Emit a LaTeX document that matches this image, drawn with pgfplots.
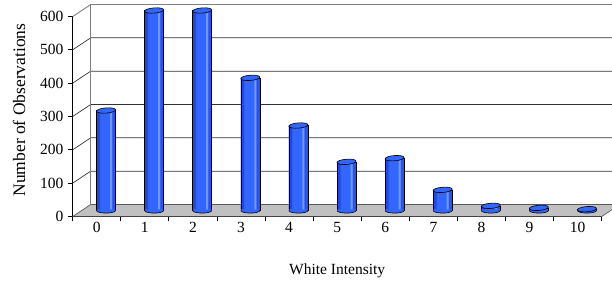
\documentclass[border=0pt]{standalone}
\usepackage{pgfplots}
\pgfplotsset{compat=1.18}
\usepackage{fontspec}
\setmainfont{Liberation Serif}
\definecolor{cylA}{RGB}{36,72,222}
\definecolor{cylB}{RGB}{51,102,255}
\definecolor{cylC}{RGB}{112,152,255}
\definecolor{cylD}{RGB}{42,84,232}
\definecolor{floorgray}{RGB}{192,192,192}
\pgfdeclareplotmark{cyltop}{%
  \pgfpathellipse{\pgfpointorigin}{\pgfpoint{9.5bp}{0.8bp}}{\pgfpoint{-0.4bp}{2.6bp}}%
  \pgfusepathqfillstroke}
\pgfdeclareplotmark{cylbot}{%
  \pgfpathmoveto{\pgfpoint{-9.2bp}{1bp}}%
  \pgfpathlineto{\pgfpoint{-9.5bp}{0bp}}%
  \pgfpatharc{180}{360}{9.5bp and 2.6bp}%
  \pgfpathlineto{\pgfpoint{9.2bp}{1bp}}%
  \pgfpathclose
  \pgfusepathqfill
  \pgfpathmoveto{\pgfpoint{-9.5bp}{0bp}}%
  \pgfpatharc{180}{360}{9.5bp and 2.6bp}%
  \pgfusepathqstroke}
\pgfplotstableread{
x y
0 300
1 600
2 600
3 398
4 255
5 146
6 157
7 62
8 14
9 8
10 4
}\counts
\begin{document}
\begin{tikzpicture}
\path[use as bounding box, clip] (0,0) rectangle (612bp,283bp);
\begin{axis}[
  at={(72.7bp,66.5bp)}, anchor=south west,
  scale only axis, width=529bp, height=200bp,
  xmin=-0.5, xmax=10.5, ymin=0, ymax=600,
  clip=false,
  axis x line*=bottom, axis y line*=left,
  axis line style={black, line width=0.8bp},
  tick align=outside,
  major tick length=0pt, minor tick length=5bp,
  minor tick style={black, line width=0.8bp},
  xtick={0,...,10},
  minor xtick={-0.5,0.5,...,10.5},
  ytick={0,100,...,600},
  minor ytick={0,100,...,600},
  /pgf/number format/assume math mode=true,
  xticklabel style={font=\fontsize{15.5bp}{18bp}\selectfont, inner sep=0pt, anchor=north, yshift=-5.2bp},
  yticklabel style={font=\fontsize{15.5bp}{18bp}\selectfont, inner sep=0pt, anchor=east, xshift=-9.2bp},
  every axis plot/.append style={xshift=9.3bp, yshift=6bp},
]
% floor
\fill[floorgray] (axis cs:-0.5,0) -- (axis cs:10.5,0) -- ([shift={(18bp,12bp)}]axis cs:10.5,0) -- ([shift={(18bp,12bp)}]axis cs:-0.5,0) -- cycle;
\draw[black!65, line width=0.7bp] (axis cs:10.5,0) -- ([shift={(18bp,12bp)}]axis cs:10.5,0) -- ([shift={(18bp,12bp)}]axis cs:-0.5,0) -- (axis cs:-0.5,0);
% back wall gridlines
\pgfplotsinvokeforeach{100,200,300,400,500}{
  \draw[black!80, line width=0.7bp] (axis cs:-0.5,#1) -- ([shift={(18bp,12bp)}]axis cs:-0.5,#1) -- ([shift={(18bp,12bp)}]axis cs:10.5,#1);
}
\draw[gray, line width=0.9bp] (axis cs:-0.5,600) -- ([shift={(18bp,12bp)}]axis cs:-0.5,600) -- ([shift={(18bp,12bp)}]axis cs:10.5,600);
\draw[gray, line width=0.9bp] ([shift={(18bp,12bp)}]axis cs:-0.5,0) -- ([shift={(18bp,12bp)}]axis cs:-0.5,600);
% bars: body, shading stripes, outline
\addplot[ybar, bar width=19bp, bar shift=0pt, fill=cylB, draw=none] table {\counts};
\addplot[ybar, bar width=3.5bp, bar shift=-7.75bp, fill=cylA, draw=none] table {\counts};
\addplot[ybar, bar width=2bp, bar shift=5bp, fill=cylC, draw=none] table {\counts};
\addplot[ybar, bar width=3bp, bar shift=8bp, fill=cylD, draw=none] table {\counts};
\addplot[ybar, bar width=19bp, bar shift=0pt, fill=none, draw=black, line width=0.6bp] table {\counts};
\addplot[only marks, mark=cylbot, mark options={fill=cylB, draw=black, line width=0.6bp}]
  coordinates {(0,0) (1,0) (2,0) (3,0) (4,0) (5,0) (6,0) (7,0) (8,0) (9,0) (10,0)};
\addplot[only marks, mark=cyltop, mark options={fill=cylB, draw=black, line width=0.6bp}] table {\counts};
\end{axis}
\node[rotate=90, anchor=base west, inner sep=0pt, font=\fontsize{17.5bp}{20bp}\selectfont] at (25bp,86.3bp) {Number of Observations};
\node[anchor=north, inner sep=0pt, font=\fontsize{15.5bp}{18bp}\selectfont] at (337.2bp,19.7bp) {White Intensity};
\end{tikzpicture}
\end{document}
